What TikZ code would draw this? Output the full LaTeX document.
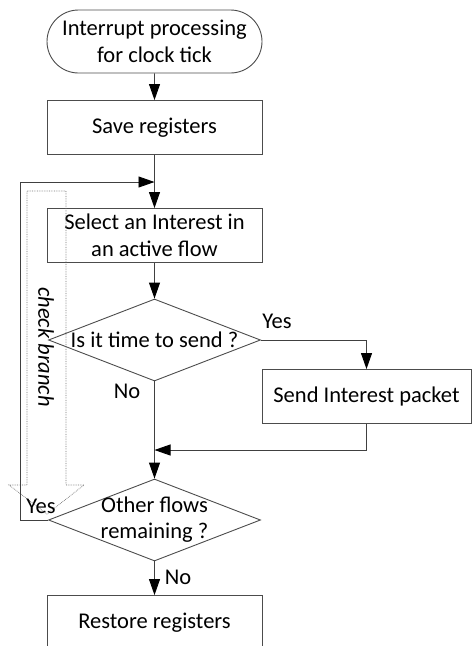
\documentclass[tikz,border=0pt]{standalone}
\usepackage{fontspec}
\setmainfont{Carlito}
\usetikzlibrary{shapes.geometric,shapes.misc,arrows.meta}
\tikzstyle{term}=[rounded rectangle, draw=black!70, line width=0.9pt, minimum width=215pt, minimum height=63pt, align=center, inner sep=0pt]
\tikzstyle{proc}=[rectangle, draw=black!70, line width=0.9pt, minimum width=215pt, minimum height=54pt, align=center, inner sep=0pt]
\tikzstyle{dec}=[diamond, draw=black!70, line width=0.9pt, minimum width=212pt, minimum height=82pt, inner sep=0pt]
\tikzstyle{lab}=[inner sep=0pt, align=center]
\tikzstyle{edge}=[draw=black!75, line width=0.9pt, -{Triangle[length=16pt,width=11pt,color=black]}]
\tikzstyle{hint}=[draw=black!55, densely dotted, line width=0.7pt]

\begin{document}
\begin{tikzpicture}[x=1pt, y=-1pt, font=\fontsize{22.5}{27}\selectfont]
				\useasboundingbox (0,0) rectangle (472,646);
				%The main column
				\draw (154.5,41.5) node[term] (start) {Interrupt processing\\for clock tick};
				\draw (154.5,127.5) node[proc] (save) {Save registers};
				\draw (154.5,235.5) node[proc] (sel) {Select an Interest in\\an active flow};
				\draw (154.5,340) node[dec, label={center:Is it time to send ?}] (send?) {};
				\draw (154.5,520) node[dec, label={center:{\begin{tabular}{c}Other flows\\[-1pt]remaining ?\end{tabular}}}] (other) {};
				\draw (154.5,622.5) node[proc] (restore) {Restore registers};
				
				%The side branch
				\draw (366.5,396.5) node[proc, minimum width=209pt] (send) {Send Interest packet};
				
				%Free ends
				\coordinate (join) at (154.5,450);
				\coordinate (back) at (154.5,182);
				\coordinate (corner) at (20,520);
				
				%The hint arrow
				\draw[hint] (27,191) -- (66,191) -- (66,485) -- (84,485) -- (47,514) -- (9,485) -- (27,485) -- cycle;
				\draw (46,347) node[lab, rotate=-90] (hinttext) {\itshape check branch};
				
				%Labels
				\draw (277,321) node[lab] (yes1) {Yes};
				\draw (127,391) node[lab] (no1) {No};
				\draw (41,506) node[lab] (yes2) {Yes};
				\draw (178,577) node[lab] (no2) {No};
				
				\draw[edge] (start) -- (save);
				\draw[edge] (save) -- (sel);
				\draw[edge] (sel) -- (send?);
				\draw[edge] (send?.east) -| (send);
				\draw[edge] (send?.south) -- (other.north);
				\draw[edge] (send.south) |- (join);
				\draw[edge] (other.west) -- (corner) |- (back);
				\draw[edge] (other) -- (restore);
			\end{tikzpicture}
\end{document}
